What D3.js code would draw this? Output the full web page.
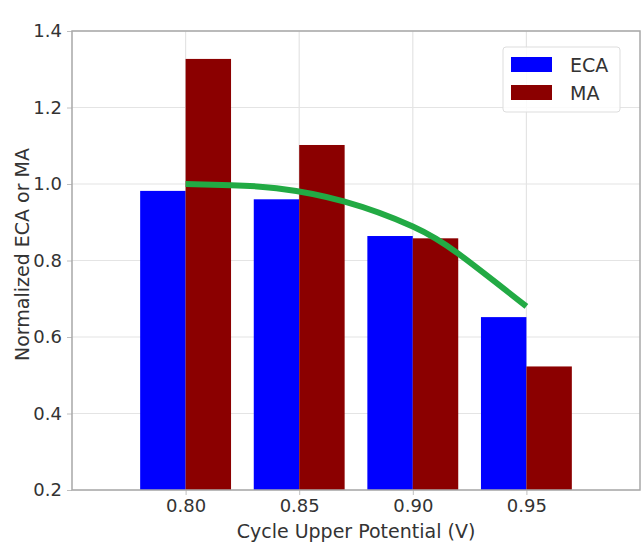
<!DOCTYPE html>
<html>
<head>
<meta charset="utf-8">
<script src="https://cdn.jsdelivr.net/npm/d3@7"></script>
<style>
  html, body { margin: 0; padding: 0; background: #fff; }
  svg { display: block; font-family: "DejaVu Sans", sans-serif; }
</style>
</head>
<body>
<svg id="chart" width="643" height="549"></svg>
<script>
// ---- data ----
const potentials = [0.80, 0.85, 0.90, 0.95];
const xTickLabels = ["0.80", "0.85", "0.90", "0.95"];
const ecaValues = [0.982, 0.960, 0.864, 0.652];
const maValues = [1.327, 1.102, 0.858, 0.523];
const yTicks = [0.2, 0.4, 0.6, 0.8, 1.0, 1.2, 1.4];
const fitX = [0.800, 0.820, 0.840, 0.870, 0.900, 0.920, 0.950];
const fitY = [1.000, 0.997, 0.989, 0.954, 0.889, 0.818, 0.680];
const seriesNames = ["ECA", "MA"];
const seriesColors = ["#0000ff", "#8b0000"];

// ---- layout ----
const svg = d3.select("#chart");
const pLeft = 72, pRight = 640, pTop = 31, pBottom = 490;
const x = d3.scaleLinear().domain([0.75, 1.0]).range([pLeft, pRight]);
const y = d3.scaleLinear().domain([0.2, 1.4]).range([pBottom, pTop]);
const barW = 0.02;

// grid
const grid = svg.append("g");
grid.selectAll("line.gy").data(yTicks).join("line")
  .attr("x1", pLeft).attr("x2", pRight)
  .attr("y1", d => y(d)).attr("y2", d => y(d))
  .attr("stroke", "#e4e4e4").attr("stroke-width", 1.2);
grid.selectAll("line.gx").data(potentials).join("line")
  .attr("y1", pTop).attr("y2", pBottom)
  .attr("x1", d => x(d)).attr("x2", d => x(d))
  .attr("stroke", "#e4e4e4").attr("stroke-width", 1.2);

// bars
const bars = svg.append("g");
bars.selectAll("rect.eca").data(potentials).join("rect")
  .attr("x", d => x(d - barW))
  .attr("width", d => x(d) - x(d - barW))
  .attr("y", (d, i) => y(ecaValues[i]))
  .attr("height", (d, i) => y(0.2) - y(ecaValues[i]))
  .attr("fill", seriesColors[0]);
bars.selectAll("rect.ma").data(potentials).join("rect")
  .attr("x", d => x(d))
  .attr("width", d => x(d + barW) - x(d))
  .attr("y", (d, i) => y(maValues[i]))
  .attr("height", (d, i) => y(0.2) - y(maValues[i]))
  .attr("fill", seriesColors[1]);

// fit curve
const line = d3.line()
  .x((d, i) => x(fitX[i]))
  .y(d => y(d))
  .curve(d3.curveNatural);
svg.append("path")
  .attr("d", line(fitY))
  .attr("fill", "none")
  .attr("stroke", "#22aa44")
  .attr("stroke-width", 6);

// axes
const xAxis = d3.axisBottom(x).tickValues(potentials)
  .tickFormat((d, i) => xTickLabels[i]).tickSize(5).tickPadding(4);
const yAxis = d3.axisLeft(y).tickValues(yTicks)
  .tickFormat(d3.format(".1f")).tickSize(5).tickPadding(5);

const gx = svg.append("g").attr("transform", `translate(0,${pBottom})`).call(xAxis);
const gy = svg.append("g").attr("transform", `translate(${pLeft},0)`).call(yAxis);
[gx, gy].forEach(g => {
  g.select(".domain").remove();
  g.selectAll(".tick line").attr("stroke", "#c0c0c0");
  g.selectAll(".tick text").attr("fill", "#333").attr("font-size", 18)
    .attr("font-family", "DejaVu Sans, sans-serif");
});

// spines
svg.append("rect")
  .attr("x", pLeft).attr("y", pTop)
  .attr("width", pRight - pLeft).attr("height", pBottom - pTop)
  .attr("fill", "none").attr("stroke", "#a8a8a8").attr("stroke-width", 1.5);

// axis labels
svg.append("text")
  .attr("x", (pLeft + pRight) / 2).attr("y", 538)
  .attr("text-anchor", "middle").attr("font-size", 19).attr("fill", "#333")
  .text("Cycle Upper Potential (V)");
svg.append("text")
  .attr("transform", `translate(29,${(pTop + pBottom) / 2 - 6}) rotate(-90)`)
  .attr("text-anchor", "middle").attr("font-size", 19).attr("fill", "#333")
  .text("Normalized ECA or MA");

// legend
const lg = svg.append("g");
lg.append("rect")
  .attr("x", 503).attr("y", 47).attr("width", 117).attr("height", 65)
  .attr("rx", 3).attr("fill", "#fff").attr("fill-opacity", 0.85)
  .attr("stroke", "#dddddd");
seriesNames.forEach((name, i) => {
  lg.append("rect")
    .attr("x", 511).attr("y", 57 + i * 28).attr("width", 41).attr("height", 15)
    .attr("fill", seriesColors[i]);
  lg.append("text")
    .attr("x", 570).attr("y", 64.5 + i * 28).attr("dominant-baseline", "central")
    .attr("font-size", 19).attr("fill", "#333").text(name);
});
</script>
</body>
</html>
